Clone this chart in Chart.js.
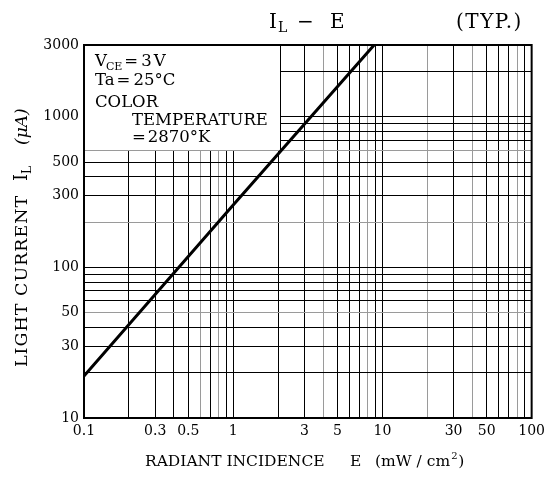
<!DOCTYPE html>
<html>
<head>
<meta charset="utf-8">
<script src="https://cdn.jsdelivr.net/npm/chart.js@4.4.0/dist/chart.umd.min.js"></script>
<style>
  html, body { margin: 0; padding: 0; background: #fff; }
  #wrap { width: 550px; height: 477px; }
</style>
</head>
<body>
<div id="wrap"><canvas id="chartArea"></canvas></div>
<script>
var radiantE = [0.1, 1, 8.8];          // mW/cm2
var lightI = [19, 260, 3000];          // uA

var xGrid = [0.1,0.2,0.3,0.4,0.5,0.6,0.7,0.8,0.9,1,2,3,4,5,6,7,8,9,10,20,30,40,50,60,70,80,90,100];
var xLabels = [0.1, 0.3, 0.5, 1, 3, 5, 10, 30, 50, 100];
var xGray = [0.6, 0.8, 4, 8, 20, 40, 80];

var yGrid = [10,20,30,40,50,60,70,80,90,100,200,300,400,500,600,700,800,900,1000,2000,3000];
var yLabels = [10, 30, 50, 100, 300, 500, 1000, 3000];
var yGray = [50, 200, 600];

var FONT = "DejaVu Serif";

function near(list, v) {
    for (var i = 0; i < list.length; i++) {
        if (Math.abs(list[i] - v) / list[i] < 1e-6) return true;
    }
    return false;
}

function txt(ctx, s, x, y, size, style) {
    ctx.font = (style ? style + ' ' : '') + size + 'px ' + FONT;
    ctx.fillText(s, x, y);
    return ctx.measureText(s).width;
}

var points = radiantE.map(function (e, i) { return { x: e, y: lightI[i] }; });

// white condition box + texts
var decor = {
    id: 'decor',
    beforeDatasetsDraw: function (chart) {
        var ctx = chart.ctx, a = chart.chartArea;
        var boxB = Math.round(chart.scales.y.getPixelForValue(600));
        var boxR = a.left + 196;
        ctx.save();
        ctx.fillStyle = '#fff';
        ctx.fillRect(a.left, a.top, boxR - a.left, boxB - a.top);
        ctx.strokeStyle = '#000';
        ctx.lineWidth = 1;
        ctx.beginPath();
        ctx.moveTo(boxR + 0.5, a.top);
        ctx.lineTo(boxR + 0.5, boxB);
        ctx.stroke();
        ctx.strokeStyle = '#9a9a9a';
        ctx.beginPath();
        ctx.moveTo(a.left, boxB + 0.5);
        ctx.lineTo(boxR, boxB + 0.5);
        ctx.stroke();

        ctx.fillStyle = '#000';
        ctx.textBaseline = 'alphabetic';
        var L = a.left, T = a.top;
        var x = L + 11;
        x += txt(ctx, 'V', x, T + 21, 16.5) - 1;
        x += txt(ctx, 'CE', x, T + 25, 11) + 2;
        x += txt(ctx, '=', x, T + 21, 16.5) + 3;
        x += txt(ctx, '3', x, T + 21, 16.5) + 2;
        txt(ctx, 'V', x, T + 21, 16.5);
        x = L + 11;
        x += txt(ctx, 'Ta', x, T + 40, 16.5) + 2;
        x += txt(ctx, '=', x, T + 40, 16.5) + 3;
        txt(ctx, '25°C', x, T + 40, 16.5);
        txt(ctx, 'COLOR', L + 11, T + 62, 16.5);
        txt(ctx, 'TEMPERATURE', L + 48, T + 80, 16.5);
        x = L + 48;
        x += txt(ctx, '=', x, T + 97, 16.5) + 2;
        txt(ctx, '2870°K', x, T + 97, 16.5);
        ctx.restore();
    },
    afterDraw: function (chart) {
        var ctx = chart.ctx, a = chart.chartArea;
        ctx.save();
        ctx.strokeStyle = '#000';
        ctx.lineWidth = 2;
        ctx.strokeRect(a.left, a.top, a.right - a.left, a.bottom - a.top);

        ctx.fillStyle = '#000';
        ctx.textBaseline = 'alphabetic';
        // title
        txt(ctx, 'I', 269, 28, 20);
        txt(ctx, 'L', 278, 32, 14);
        txt(ctx, '−', 297, 28, 20);
        txt(ctx, 'E', 330, 28, 20);
        ctx.letterSpacing = '1.5px';
        txt(ctx, '(TYP.)', 456, 28, 20);
        ctx.letterSpacing = '0px';

        // x title
        txt(ctx, 'RADIANT INCIDENCE', 145, 466, 15.5);
        txt(ctx, 'E', 350, 466, 15.5);
        var w = txt(ctx, '(mW / cm', 375, 466, 15.5);
        txt(ctx, '2', 375 + w + 1, 459, 10);
        txt(ctx, ')', 375 + w + 8, 466, 15.5);

        // y title
        ctx.translate(27, 367);
        ctx.rotate(-Math.PI / 2);
        ctx.letterSpacing = '1px';
        txt(ctx, 'LIGHT CURRENT', 0, 0, 17.5);
        ctx.letterSpacing = '0px';
        txt(ctx, 'I', 186, 0, 18);
        txt(ctx, 'L', 193, 4, 12);
        txt(ctx, '(μA)', 222, 0, 17, 'italic');
        ctx.restore();
    }
};

var chart = new Chart(document.getElementById('chartArea'), {
    type: 'scatter',
    data: {
        datasets: [{
            data: points,
            showLine: true,
            borderColor: '#000',
            borderWidth: 3,
            pointRadius: 0,
            tension: 0
        }]
    },
    options: {
        responsive: true,
        maintainAspectRatio: false,
        animation: false,
        layout: { padding: { left: 0, right: 16, top: 45, bottom: 0 } },
        plugins: {
            legend: { display: false },
            tooltip: { enabled: false }
        },
        scales: {
            x: {
                type: 'logarithmic',
                min: 0.1,
                max: 100,
                afterBuildTicks: function (s) {
                    s.ticks = xGrid.map(function (v) { return { value: v }; });
                },
                afterFit: function (s) { s.height = 59; },
                grid: {
                    drawTicks: false,
                    lineWidth: 1,
                    color: function (c) { return near(xGray, c.tick.value) ? '#9a9a9a' : '#000'; }
                },
                border: { display: false },
                ticks: {
                    autoSkip: false,
                    maxRotation: 0,
                    padding: 5,
                    color: '#000',
                    font: { family: FONT, size: 14 },
                    callback: function (v) { return near(xLabels, v) ? String(v) : ''; }
                }
            },
            y: {
                type: 'logarithmic',
                min: 10,
                max: 3000,
                afterBuildTicks: function (s) {
                    s.ticks = yGrid.map(function (v) { return { value: v }; });
                },
                afterFit: function (s) { s.width = 84; },
                grid: {
                    drawTicks: false,
                    lineWidth: 1,
                    color: function (c) { return near(yGray, c.tick.value) ? '#9a9a9a' : '#000'; }
                },
                border: { display: false },
                ticks: {
                    autoSkip: false,
                    padding: 5,
                    color: '#000',
                    font: { family: FONT, size: 14 },
                    callback: function (v) { return near(yLabels, v) ? String(v) : ''; }
                }
            }
        }
    },
    plugins: [decor]
});
</script>
</body>
</html>
